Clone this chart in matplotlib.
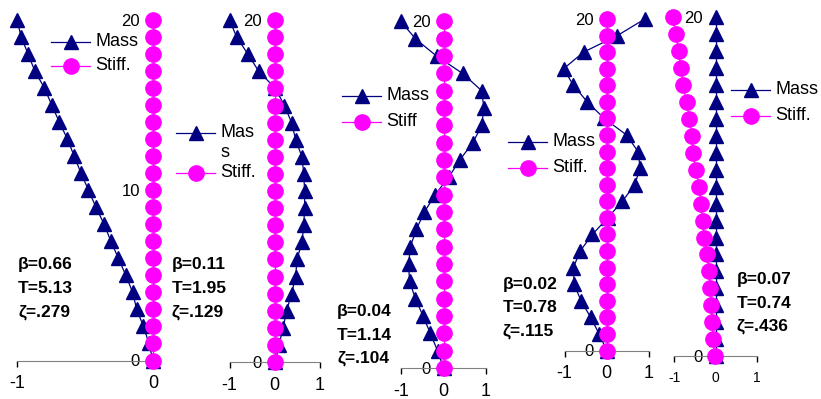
import matplotlib
matplotlib.use("Agg")
import matplotlib.pyplot as plt
from matplotlib.lines import Line2D

plt.rcParams["font.family"] = ["Liberation Sans", "DejaVu Sans"]

W, H = 821, 399
NAVY = "#000080"
MAGENTA = "#FF00FF"

# storey levels, bottom (0) to top (20)
LEVELS = list(range(21))
FLAT = [0.0, 0.0, 0.0, 0.0, 0.0, 0.0, 0.0, 0.0, 0.0, 0.0, 0.0,
        0.0, 0.0, 0.0, 0.0, 0.0, 0.0, 0.0, 0.0, 0.0, 0.0]

MASS_1 = [0.0, -0.03, -0.07, -0.12, -0.15, -0.20, -0.255, -0.31, -0.36, -0.42, -0.475,
          -0.53, -0.58, -0.63, -0.69, -0.745, -0.80, -0.87, -0.92, -0.97, -1.0]
MASS_2 = [0.02, 0.10, 0.19, 0.27, 0.38, 0.47, 0.50, 0.61, 0.65, 0.67, 0.67,
          0.65, 0.61, 0.47, 0.38, 0.22, 0.02, -0.35, -0.59, -0.84, -1.0]
MASS_3 = [0.0, -0.14, -0.31, -0.48, -0.66, -0.80, -0.82, -0.78, -0.64, -0.45, -0.20,
          0.12, 0.38, 0.69, 0.90, 0.95, 0.90, 0.45, -0.16, -0.66, -1.0]
MASS_4 = [0.0, -0.18, -0.38, -0.61, -0.77, -0.79, -0.63, -0.34, 0.02, 0.37, 0.66,
          0.79, 0.74, 0.47, -0.06, -0.46, -0.79, -1.02, -0.55, 0.25, 0.90]
MASS_5 = FLAT
STIFF_5 = [-0.02, -0.06, -0.08, -0.10, -0.13, -0.16, -0.20, -0.27, -0.31, -0.35, -0.39,
           -0.48, -0.55, -0.57, -0.63, -0.69, -0.79, -0.83, -0.89, -0.95, -1.03]

MASS = [MASS_1, MASS_2, MASS_3, MASS_4, MASS_5]
STIFF = [FLAT, FLAT, FLAT, FLAT, STIFF_5]
STIFF_NAMES = ["Stiff.", "Stiff.", "Stiff", "Stiff.", "Stiff."]
BETA = ["0.66", "0.11", "0.04", "0.02", "0.07"]
PERIOD = ["5.13", "1.95", "1.14", "0.78", "0.74"]
ZETA = [".279", ".129", ".104", ".115", ".436"]


def fx(px):
    return px / W


def fy(py):
    return 1 - py / H


# pixel boxes: x at xmin, x at xmax, y at level 0, y at level 20
PANELS = [
    dict(box=(17, 153, 360.5, 19.5), xlim=(-1, 0), yticks=[0, 10, 20], xfs=13,
         key=(51, 95, 41.5, 24), note=(18, 263.5)),
    dict(box=(229.5, 319.5, 362, 20), xlim=(-1, 1), yticks=[0, 20], xfs=13,
         key=(176, 220, 133, 40), note=(171.5, 263.5)),
    dict(box=(401, 486, 368, 21.5), xlim=(-1, 1), yticks=[0, 20], xfs=13,
         key=(342, 386, 96, 26), note=(337, 310)),
    dict(box=(564.5, 649, 350.5, 19), xlim=(-1, 1), yticks=[0, 20], xfs=13,
         key=(508, 552, 142, 26), note=(502.5, 283)),
    dict(box=(674, 757, 356, 17.5), xlim=(-1, 1), yticks=[0, 20], xfs=10,
         key=(731, 775, 90, 26), note=(736.5, 278)),
]


def draw_panel(fig, p, mass, stiff):
    x0, x1, y0, y20 = p["box"]
    ax = fig.add_axes([fx(x0), fy(y0), (x1 - x0) / W, (y0 - y20) / H])
    ax.set_facecolor("none")
    ax.plot(mass, LEVELS, color=NAVY, marker="^", ms=10, lw=0.9,
            clip_on=False, zorder=3)
    ax.plot(stiff, LEVELS, color=MAGENTA, marker="o", ms=11, lw=0.9,
            clip_on=False, zorder=4)
    ax.set_xlim(p["xlim"])
    ax.set_ylim(0, 20)

    for side in ["top", "right"]:
        ax.spines[side].set_visible(False)
    ax.spines["left"].set_position(("data", 0))
    ax.spines["left"].set_color("#808080")
    ax.spines["bottom"].set_color("#808080")
    ax.spines["left"].set_zorder(1)

    lo, hi = p["xlim"]
    ax.set_xticks(list(range(lo, hi + 1)))
    ax.set_xticklabels([str(v) for v in range(lo, hi + 1)])
    ax.set_yticks(p["yticks"])
    ax.tick_params(axis="x", direction="out", length=4, width=1, pad=6.5,
                   labelsize=p["xfs"], color="black")
    ax.tick_params(axis="y", length=0, pad=9.5, labelsize=12)
    return ax


def draw_key(fig, p, stiff_name, wrap_mass):
    lx, tx, ym, gap = p["key"]
    rows = [(ym, NAVY, "^", 10, "Mas" if wrap_mass else "Mass"),
            (ym + gap, MAGENTA, "o", 11, stiff_name)]
    for y, color, marker, ms, label in rows:
        line = Line2D([fx(lx), fx(lx + 19.5), fx(lx + 39)], [fy(y)] * 3,
                      transform=fig.transFigure, color=color, lw=0.9,
                      marker=marker, ms=ms, markevery=[1])
        fig.add_artist(line)
        fig.text(fx(tx), fy(y), label, fontsize=13, va="center", ha="left")
    if wrap_mass:
        # the legend in the original wraps "Mass" onto two lines
        fig.text(fx(tx), fy(ym + gap / 2), "s", fontsize=13, va="center", ha="left")


def draw_note(fig, p, beta, period, zeta):
    nx, ny = p["note"]
    lines = ["β=" + beta, "T=" + period, "ζ=" + zeta]
    for i, s in enumerate(lines):
        fig.text(fx(nx), fy(ny + 1.5 + i * 23.5), s, fontsize=12.5,
                 fontweight="bold", va="center", ha="left")


fig = plt.figure(figsize=(W / 100, H / 100), dpi=100)

for i, p in enumerate(PANELS):
    draw_panel(fig, p, MASS[i], STIFF[i])
    draw_key(fig, p, STIFF_NAMES[i], wrap_mass=(i == 1))
    draw_note(fig, p, BETA[i], PERIOD[i], ZETA[i])

fig.savefig("out.png", dpi=100)
plt.close(fig)
